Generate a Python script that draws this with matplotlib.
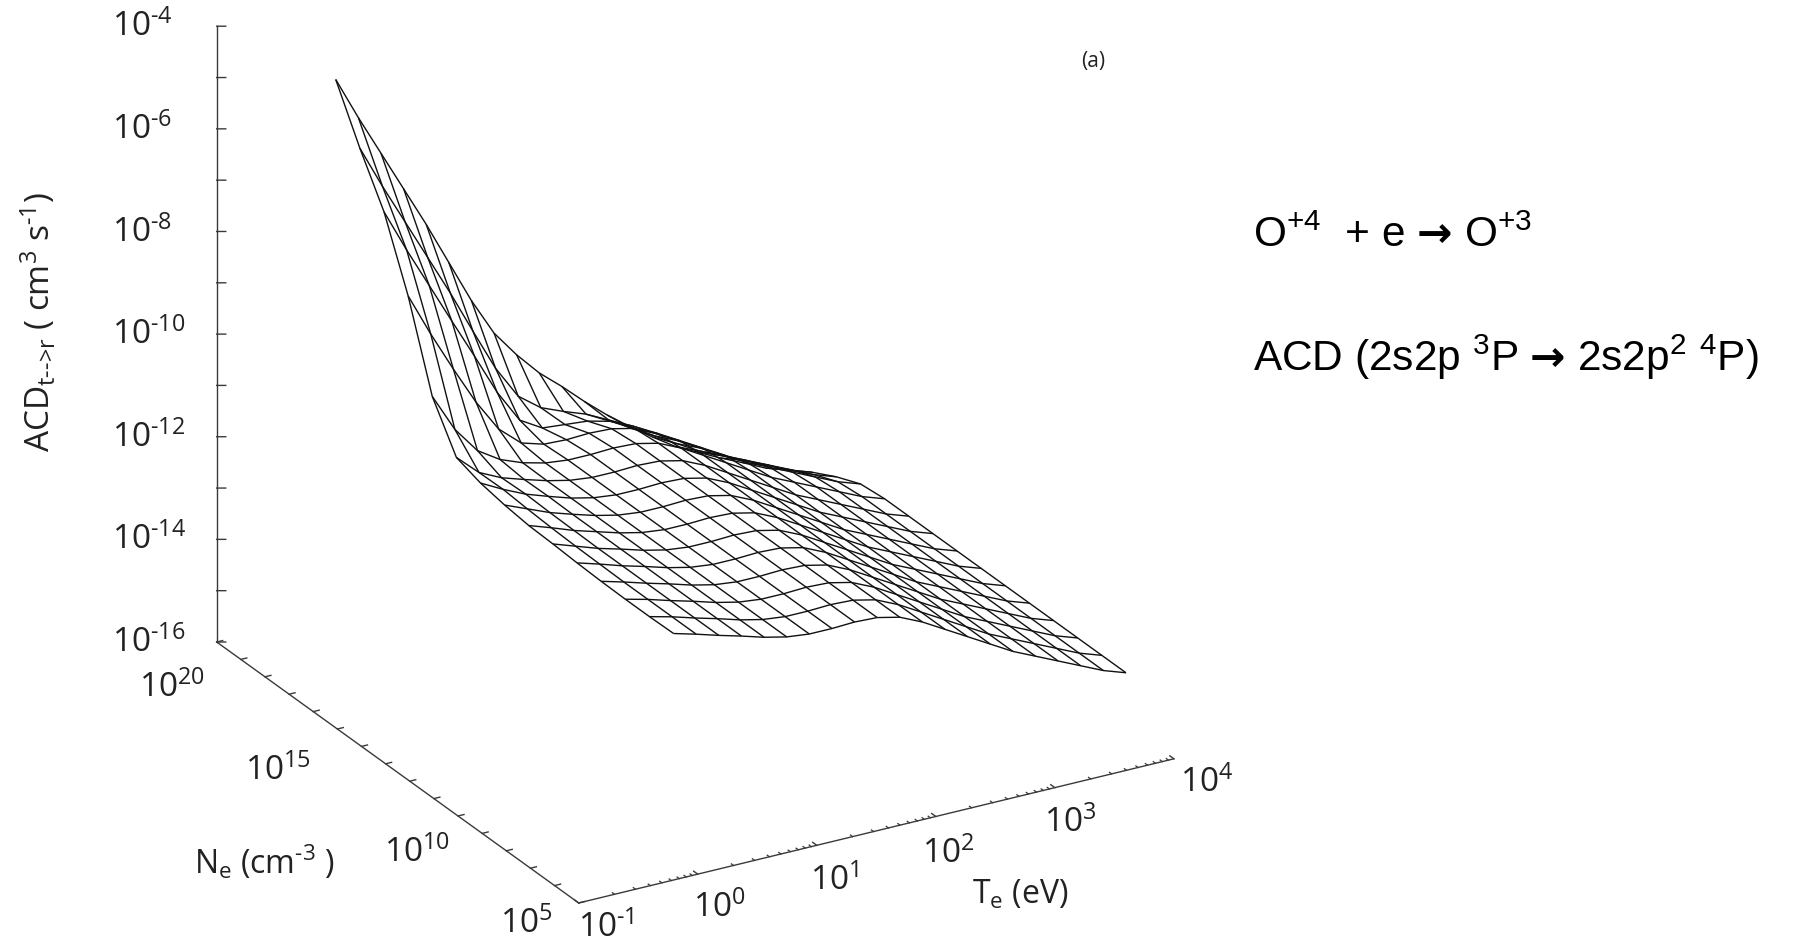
import matplotlib
matplotlib.use('Agg')
import matplotlib.pyplot as plt
import matplotlib.transforms as mtransforms
import numpy as np

plt.rcParams['font.family'] = ['Open Sans', 'DejaVu Sans']
plt.rcParams['mathtext.fontset'] = 'custom'
plt.rcParams['mathtext.rm'] = 'Open Sans'
plt.rcParams['mathtext.it'] = 'Open Sans:italic'
plt.rcParams['mathtext.bf'] = 'Open Sans:bold'
plt.rcParams['mathtext.sf'] = 'Liberation Sans'

# grid of the surface: log10 Te (eV) and log10 Ne (cm^-3)
te_log = [0.00, 0.19, 0.38, 0.57, 0.76, 0.95, 1.14, 1.33, 1.52, 1.71, 1.90,
          2.09, 2.28, 2.47, 2.66, 2.85, 3.04, 3.23, 3.42, 3.61, 3.80]
ne_log = [6, 7, 8, 9, 10, 11, 12, 13, 14, 15, 16, 17, 18, 19, 20]

# log10 ACD (cm^3 s^-1), one row per density
acd_log = [
    [-11.65, -11.77, -11.90, -12.02, -12.15, -12.25, -12.30, -12.30, -12.28, -12.30, -12.40, -12.60, -12.85, -13.10, -13.35, -13.60, -13.80, -14.00, -14.20, -14.40, -14.55],
    [-11.66, -11.77, -11.90, -12.02, -12.15, -12.25, -12.30, -12.30, -12.28, -12.30, -12.40, -12.60, -12.85, -13.10, -13.35, -13.60, -13.80, -14.00, -14.20, -14.40, -14.55],
    [-11.66, -11.77, -11.90, -12.02, -12.15, -12.25, -12.30, -12.30, -12.28, -12.30, -12.40, -12.60, -12.85, -13.10, -13.35, -13.60, -13.80, -14.00, -14.20, -14.40, -14.55],
    [-11.65, -11.77, -11.90, -12.02, -12.15, -12.25, -12.30, -12.30, -12.28, -12.30, -12.40, -12.60, -12.85, -13.10, -13.35, -13.60, -13.80, -14.00, -14.20, -14.40, -14.55],
    [-11.63, -11.76, -11.90, -12.02, -12.15, -12.25, -12.30, -12.30, -12.28, -12.30, -12.40, -12.60, -12.85, -13.10, -13.35, -13.60, -13.80, -14.00, -14.20, -14.40, -14.55],
    [-11.60, -11.75, -11.90, -12.02, -12.15, -12.25, -12.30, -12.30, -12.28, -12.30, -12.40, -12.60, -12.85, -13.10, -13.35, -13.60, -13.80, -14.00, -14.20, -14.40, -14.55],
    [-11.58, -11.73, -11.89, -12.02, -12.15, -12.25, -12.30, -12.30, -12.28, -12.30, -12.40, -12.60, -12.85, -13.10, -13.35, -13.60, -13.80, -14.00, -14.20, -14.40, -14.55],
    [-11.52, -11.70, -11.88, -12.02, -12.15, -12.25, -12.30, -12.30, -12.28, -12.30, -12.40, -12.60, -12.85, -13.10, -13.35, -13.60, -13.80, -14.00, -14.20, -14.40, -14.55],
    [-11.43, -11.66, -11.86, -12.01, -12.15, -12.25, -12.30, -12.30, -12.28, -12.30, -12.40, -12.60, -12.85, -13.10, -13.35, -13.60, -13.80, -14.00, -14.20, -14.40, -14.55],
    [-11.27, -11.67, -11.88, -12.02, -12.15, -12.25, -12.30, -12.30, -12.28, -12.30, -12.40, -12.60, -12.85, -13.10, -13.35, -13.60, -13.80, -14.00, -14.20, -14.40, -14.55],
    [-10.42, -11.17, -11.69, -11.97, -12.14, -12.25, -12.30, -12.30, -12.28, -12.30, -12.40, -12.60, -12.85, -13.10, -13.35, -13.60, -13.80, -14.00, -14.20, -14.40, -14.55],
    [-8.80, -9.65, -10.44, -11.19, -11.82, -12.20, -12.33, -12.35, -12.33, -12.35, -12.45, -12.65, -12.90, -13.15, -13.40, -13.65, -13.85, -14.05, -14.25, -14.45, -14.60],
    [-7.50, -8.35, -9.15, -9.95, -10.74, -11.55, -12.20, -12.46, -12.50, -12.54, -12.65, -12.85, -13.10, -13.35, -13.60, -13.85, -14.05, -14.25, -14.45, -14.65, -14.80],
    [-6.60, -7.45, -8.25, -9.05, -9.85, -10.70, -11.53, -12.18, -12.51, -12.69, -12.85, -13.07, -13.34, -13.59, -13.85, -14.10, -14.30, -14.50, -14.70, -14.90, -15.05],
    [-5.60, -6.45, -7.25, -8.05, -8.85, -9.70, -10.55, -11.29, -11.82, -12.28, -12.65, -13.05, -13.42, -13.75, -14.06, -14.35, -14.57, -14.79, -14.99, -15.20, -15.35],
]

# axes ranges and tick marks (log10)
te_range = (-1, 4)
ne_range = (5, 20)
z_range = (-16, -4)
z_ticks = list(range(-16, -3))
z_labels = [-16, -14, -12, -10, -8, -6, -4]
ne_ticks = list(range(5, 21))
ne_labels = [20, 15, 10, 5]
te_labels = [-1, 0, 1, 2, 3, 4]

# label offsets in pixels (right, down) from the tick on the axis
ne_off = {20: (-45, 45), 15: (-59, 41), 10: (-41, 36), 5: (-52, 20)}
te_off = {-1: (27, 24), 0: (22, 33), 1: (18, 35), 2: (12, 36), 3: (15, 34), 4: (33, 23)}

W, H = 1796, 945
fig = plt.figure(figsize=(W / 100, H / 100), dpi=100)
ax = fig.add_axes([0, 0, 1, 1], projection='3d', proj_type='ortho')
ax.view_init(elev=24.7, azim=-120.1)
ax.set_box_aspect((1.015, 1.065, 1.0))
ax.set_xlim(*te_range)
ax.set_ylim(*ne_range)
ax.set_zlim(*z_range)
ax.set_axis_off()

X, Y = np.meshgrid(te_log, ne_log)
Z = np.array(acd_log)
ax.plot_wireframe(X, Y, Z, rstride=1, cstride=1, color='#111111', linewidth=1.0)

# gnuplot style axes drawn by hand
acol = '#3a3a3a'
x0, y0, z0 = te_range[0], ne_range[1], z_range[0]
ax.plot([x0, x0], [y0, y0], list(z_range), color=acol, lw=1.0)
ax.plot([x0, x0], [ne_range[1], ne_range[0]], [z0, z0], color=acol, lw=1.0)
ax.plot(list(te_range), [ne_range[0]] * 2, [z0, z0], color=acol, lw=1.0)
for z in z_ticks:
    ax.plot([x0, x0 + 0.057], [y0, y0 - 0.094], [z, z], color=acol, lw=1.0)
for n in ne_ticks:
    ax.plot([x0, x0 + 0.05], [n, n], [z0, z0], color=acol, lw=1.0)
for t in range(te_range[0], te_range[1] + 1):
    ax.plot([t, t], [ne_range[0], ne_range[0] + 0.17], [z0, z0], color=acol, lw=1.0)
    if t < te_range[1]:
        for k in range(2, 10):
            tm = t + np.log10(k)
            ax.plot([tm, tm], [ne_range[0], ne_range[0] + 0.09], [z0, z0],
                    color=acol, lw=0.9)


def to_px(x, y, z):
    v = ax.get_proj() @ np.array([x, y, z, 1.0])
    return ax.transData.transform((v[0] / v[3], v[1] / v[3]))


# fit the cube onto the reference corners
corners = [(te_range[0], ne_range[1], z_range[0]), (te_range[1], ne_range[0], z_range[0]),
           (te_range[0], ne_range[0], z_range[0]), (te_range[0], ne_range[1], z_range[1])]
targets = [(217, H - 643), (1174, H - 760), (578, H - 904), (217, H - 27)]
for _ in range(2):
    fig.canvas.draw()
    bb = ax.bbox
    rows, rhs = [], []
    for c, t in zip(corners, targets):
        px, py = to_px(*c)
        rows.append([1, 0, (px - bb.x0) / bb.width]); rhs.append(t[0])
        rows.append([0, 1, (py - bb.y0) / bb.height]); rhs.append(t[1])
    ox, oy, s = np.linalg.lstsq(np.array(rows), np.array(rhs), rcond=None)[0]
    ax.set_position([ox / W, oy / H, s / W, s / H])
fig.canvas.draw()

ident = mtransforms.IdentityTransform()
tcol = '#222222'
tsize = 24
for z in z_labels:
    px, py = to_px(x0, y0, z)
    fig.text(px - 105, py, '10$^{\\text{%d}}$' % z, ha='left', va='center',
             fontsize=tsize, transform=ident, color=tcol)
for n in ne_labels:
    px, py = to_px(x0, n, z0)
    dx, dy = ne_off[n]
    fig.text(px + dx, py - dy, '10$^{\\text{%d}}$' % n, ha='center', va='center',
             fontsize=tsize, transform=ident, color=tcol)
for t in te_labels:
    px, py = to_px(t, ne_range[0], z0)
    dx, dy = te_off[t]
    fig.text(px + dx, py - dy, '10$^{\\text{%d}}$' % t, ha='center', va='center',
             fontsize=tsize, transform=ident, color=tcol)

fig.text(39, H - 322, 'ACD$_{\\mathrm{t}\\text{-->}\\mathrm{r}}$ ( cm$^{\\mathrm{3}}$ s$^{\\text{-1}}$)',
         rotation=90, ha='center', va='center', fontsize=24, transform=ident, color=tcol)
fig.text(264, H - 862, 'N$_{\\mathrm{e}}$ (cm$^{\\text{-3}}$ )', ha='center', va='center',
         fontsize=23, transform=ident, color=tcol)
fig.text(1020, H - 895, 'T$_{\\mathrm{e}}$ (eV)', ha='center', va='center',
         fontsize=23, transform=ident, color=tcol)
fig.text(1093, H - 62, '(a)', ha='center', va='center', fontsize=15,
         transform=ident, color=tcol)

# reaction text on the right, the arrow set in a font with a larger glyph
renderer = fig.canvas.get_renderer()
rfont = ['Liberation Sans', 'DejaVu Sans']
rsize = 30.5
gap = 0.28 * rsize * 100 / 72


def text_line(x, y, pieces):
    for s, fam, wt in pieces:
        t = fig.text(x, y, s, ha='left', va='baseline', fontsize=rsize,
                     family=fam, weight=wt, transform=ident, color='black')
        x = t.get_window_extent(renderer).x1 + gap


arrow = ('\u2192', ['DejaVu Sans'], 'bold')
text_line(1253, H - 247, [('O$^{\\mathsf{+4}}$  + e', rfont, 'normal'), arrow,
                          ('O$^{\\mathsf{+3}}$', rfont, 'normal')])
text_line(1253, H - 371, [('ACD (2s2p $^{\\mathsf{3}}$P', rfont, 'normal'), arrow,
                          ('2s2p$^{\\mathsf{2}}$ $^{\\mathsf{4}}$P)', rfont, 'normal')])

fig.savefig('out.png', dpi=100)
